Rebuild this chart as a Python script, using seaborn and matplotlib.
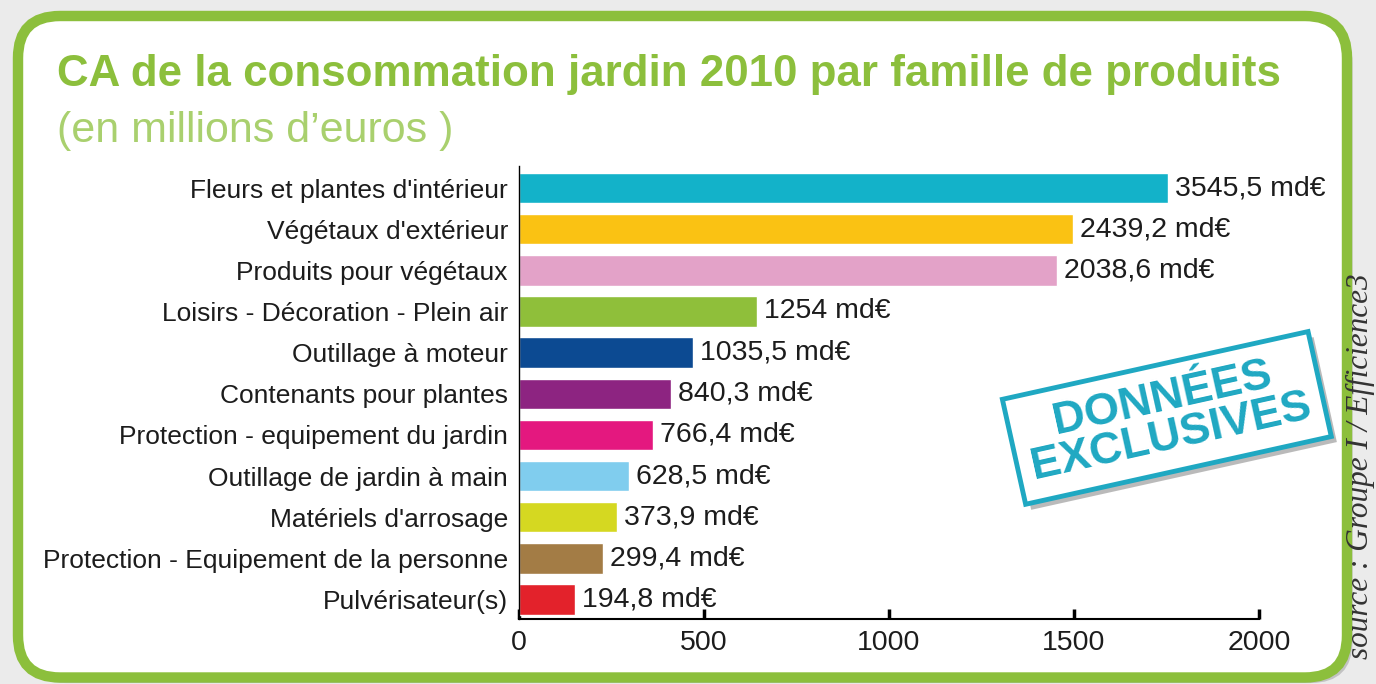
import pandas as pd
import matplotlib
matplotlib.use("Agg")
import matplotlib.pyplot as plt
import matplotlib.patheffects as pe
from matplotlib.patches import FancyBboxPatch
import seaborn as sns

# --- STYLE ---
sns.set_theme(style="white")
plt.rcParams["font.family"] = ["Liberation Sans", "DejaVu Sans"]

c_green = "#8cbf3c"
c_green_light = "#a9d06e"
c_teal = "#1fa8c2"
c_text = "#1c1c1c"

# --- DATA (bar lengths; labels as printed) ---
categories = [
    "Fleurs et plantes d'intérieur",
    "Végétaux d'extérieur",
    "Produits pour végétaux",
    "Loisirs - Décoration - Plein air",
    "Outillage à moteur",
    "Contenants pour plantes",
    "Protection - equipement du jardin",
    "Outillage de jardin à main",
    "Matériels d'arrosage",
    "Protection - Equipement de la personne",
    "Pulvérisateur(s)",
]
bar_length = [1753, 1498, 1455, 644, 470, 411, 362, 297, 266, 228, 152]
value_text = [
    "3545,5 md€", "2439,2 md€", "2038,6 md€", "1254 md€", "1035,5 md€",
    "840,3 md€", "766,4 md€", "628,5 md€", "373,9 md€", "299,4 md€", "194,8 md€",
]
bar_colors = [
    "#13b2c9", "#fac213", "#e3a2c8", "#8fbf3a", "#0c4a92", "#8d2481",
    "#e4187f", "#80cdee", "#d5d821", "#a37c45", "#e3222b",
]
x_ticks = [0, 500, 1000, 1500, 2000]

df = pd.DataFrame({"famille": categories, "ca": bar_length})

fig = plt.figure(figsize=(13.76, 6.84), dpi=100, facecolor="#ebebeb")

# rounded green frame
frame = FancyBboxPatch((0.18, 0.065), 13.29, 6.615,
                       boxstyle="round,pad=0,rounding_size=0.42",
                       transform=fig.dpi_scale_trans, facecolor="white",
                       edgecolor=c_green, linewidth=7.5, zorder=-5)
frame.set_path_effects([pe.SimplePatchShadow(offset=(4, -4), shadow_rgbFace="#9a9a9a", alpha=0.5),
                        pe.Normal()])
fig.add_artist(frame)

ax = fig.add_axes([519 / 1376, 1 - 619 / 684, 740 / 1376, (619 - 166) / 684])
ax.patch.set_visible(False)

sns.barplot(data=df, x="ca", y="famille", hue="famille", palette=bar_colors,
            legend=False, width=0.74, saturation=1, orient="h", ax=ax)

for cont, txt in zip(ax.containers, value_text):
    bar = cont[0]
    ax.annotate(txt, xy=(bar.get_width(), bar.get_y() + bar.get_height() / 2),
                xytext=(5, 0), textcoords="offset points", ha="left", va="center",
                fontsize=20.5, color=c_text, annotation_clip=False)

ax.set_xlim(0, 2000)
ax.set_ylim(10.475, -0.535)
ax.set_xticks(x_ticks)
ax.set_xticklabels([str(t) for t in x_ticks])
ax.set_xlabel("")
ax.set_ylabel("")
ax.tick_params(axis="x", direction="in", length=7, width=2.5, color="black",
               labelsize=20.5, labelcolor=c_text, pad=8, bottom=True)
ax.tick_params(axis="y", length=0, labelsize=19, labelcolor=c_text, pad=8)
for s in ["top", "right"]:
    ax.spines[s].set_visible(False)
ax.spines["bottom"].set_color("black")
ax.spines["bottom"].set_linewidth(1.5)
ax.spines["left"].set_color("black")
ax.spines["left"].set_linewidth(1.0)

# titles
fig.text(57 / 1376, 1 - 86 / 684, "CA de la consommation jardin 2010 par famille de produits",
         fontsize=31.6, fontweight="bold", color=c_green, ha="left", va="baseline")
fig.text(57 / 1376, 1 - 142 / 684, "(en millions d\u2019euros )",
         fontsize=31, color=c_green_light, ha="left", va="baseline")

# stamp
stamp = fig.text(0.848, 0.389, "DONNÉES\nEXCLUSIVES", rotation=12.5, rotation_mode="anchor",
                 ha="center", va="center", multialignment="center", fontsize=32.5,
                 fontweight="bold", color=c_teal, linespacing=0.95,
                 bbox=dict(boxstyle="square,pad=0.3", facecolor="white",
                           edgecolor=c_teal, linewidth=3.5))
stamp.get_bbox_patch().set_path_effects([
    pe.SimplePatchShadow(offset=(4, -4), shadow_rgbFace="#777777", alpha=0.5), pe.Normal()])

# source
fig.text(0.9885, 0.6, "source : Groupe I / Efficience3", rotation=90, ha="center", va="top",
         fontsize=22.5, fontstyle="italic", color="#333333",
         family=["Liberation Serif", "DejaVu Serif"])

fig.savefig("out.png", dpi=100, facecolor=fig.get_facecolor())
